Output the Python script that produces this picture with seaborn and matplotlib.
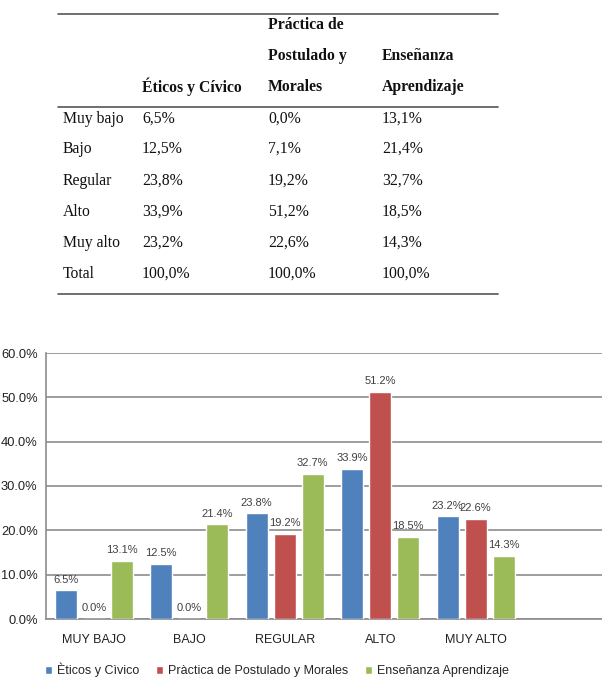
import matplotlib
matplotlib.use("Agg")
import matplotlib.pyplot as plt
from matplotlib.lines import Line2D
import seaborn as sns
import pandas as pd

# ---------------- data ----------------
categories = ["MUY BAJO", "BAJO", "REGULAR", "ALTO", "MUY ALTO"]
series_names = ["Èticos y Cìvico", "Pràctica de Postulado y Morales", "Enseñanza Aprendizaje"]
eticos = [6.5, 12.5, 23.8, 33.9, 23.2]
practica = [0.0, 0.0, 19.2, 51.2, 22.6]
ensenanza = [13.1, 21.4, 32.7, 18.5, 14.3]
y_ticks = [0, 10, 20, 30, 40, 50, 60]

table_header = [["", "", "Práctica de", ""],
                ["", "", "Postulado y", "Enseñanza"],
                ["", "Éticos y Cívico", "Morales", "Aprendizaje"]]
table_rows = ["Muy bajo", "Bajo", "Regular", "Alto", "Muy alto", "Total"]
table_eticos = ["6,5%", "12,5%", "23,8%", "33,9%", "23,2%", "100,0%"]
table_practica = ["0,0%", "7,1%", "19,2%", "51,2%", "22,6%", "100,0%"]
table_ensenanza = ["13,1%", "21,4%", "32,7%", "18,5%", "14,3%", "100,0%"]

colors = ["#4F81BD", "#C0504D", "#9BBB59"]

W, H = 602, 677
fig = plt.figure(figsize=(W / 100, H / 100), dpi=100)
sns.set_style("white")
plt.rcParams["font.family"] = ["Liberation Sans", "DejaVu Sans"]

def fx(x):
    return x / W

def fy(y):
    return 1 - y / H

# ---------------- table ----------------
serif = ["Liberation Serif", "DejaVu Serif"]
for yy in (14, 107, 294):
    fig.add_artist(Line2D([fx(58), fx(498)], [fy(yy), fy(yy)], color="#555555", lw=1.2))

col_x = [63, 142, 268, 382]
head_y = [25, 56, 87]
for r, row in enumerate(table_header):
    for c, txt in enumerate(row):
        if txt:
            fig.text(fx(col_x[c]), fy(head_y[r]), txt, family=serif, fontsize=11.3,
                     fontweight="bold", va="center", ha="left", color="#111111")

row_y = [119, 149, 181, 212, 243, 274]
for i, lab in enumerate(table_rows):
    vals = [lab, table_eticos[i], table_practica[i], table_ensenanza[i]]
    for c, txt in enumerate(vals):
        fig.text(fx(col_x[c]), fy(row_y[i]), txt, family=serif, fontsize=11.3,
                 va="center", ha="left", color="#111111")

# ---------------- bar chart ----------------
ax_left, ax_right, ax_top, ax_bottom = 46, 602, 353, 619
ax = fig.add_axes([fx(ax_left), 1 - ax_bottom / H, (ax_right - ax_left) / W, (ax_bottom - ax_top) / H])

df = pd.DataFrame({
    "cat": categories * 3,
    "serie": [series_names[0]] * 5 + [series_names[1]] * 5 + [series_names[2]] * 5,
    "val": eticos + practica + ensenanza,
})
sns.barplot(data=df, x="cat", y="val", hue="serie", order=categories,
            hue_order=series_names, palette=colors, width=0.88, gap=0.2,
            saturation=1, ax=ax, zorder=3)

for cont in ax.containers:
    ax.bar_label(cont, labels=[f"{b.get_height():.1f}%" for b in cont], padding=4,
                 fontsize=8, color="#404040")

group_w = 95.5
ax.set_xlim(-0.5, -0.5 + (ax_right - ax_left) / group_w)
ax.set_ylim(0, 60)
ax.set_yticks(y_ticks)
ax.set_yticklabels([f"{t:.1f}%" for t in y_ticks], fontsize=9.3, color="#222222")
ax.grid(axis="y", color="#8c8c8c", lw=1.2, zorder=0)
ax.set_axisbelow(True)
ax.tick_params(axis="y", length=0, pad=6)
ax.tick_params(axis="x", length=0, pad=11, labelsize=9, labelcolor="#222222")
ax.set_xlabel("")
ax.set_ylabel("")
for s in ("top", "right"):
    ax.spines[s].set_visible(False)
for s in ("left", "bottom"):
    ax.spines[s].set_color("#8c8c8c")
    ax.spines[s].set_linewidth(1.2)

handles, labels = ax.get_legend_handles_labels()
ax.legend(handles, labels, ncol=3, loc="center", bbox_to_anchor=(fx(277), fy(670)),
          bbox_transform=fig.transFigure, frameon=False,
          handlelength=0.6, handleheight=0.6, handletextpad=0.4, columnspacing=1.3,
          prop={"family": ["Liberation Sans", "DejaVu Sans"], "size": 9})

fig.savefig("out.png", dpi=100)
